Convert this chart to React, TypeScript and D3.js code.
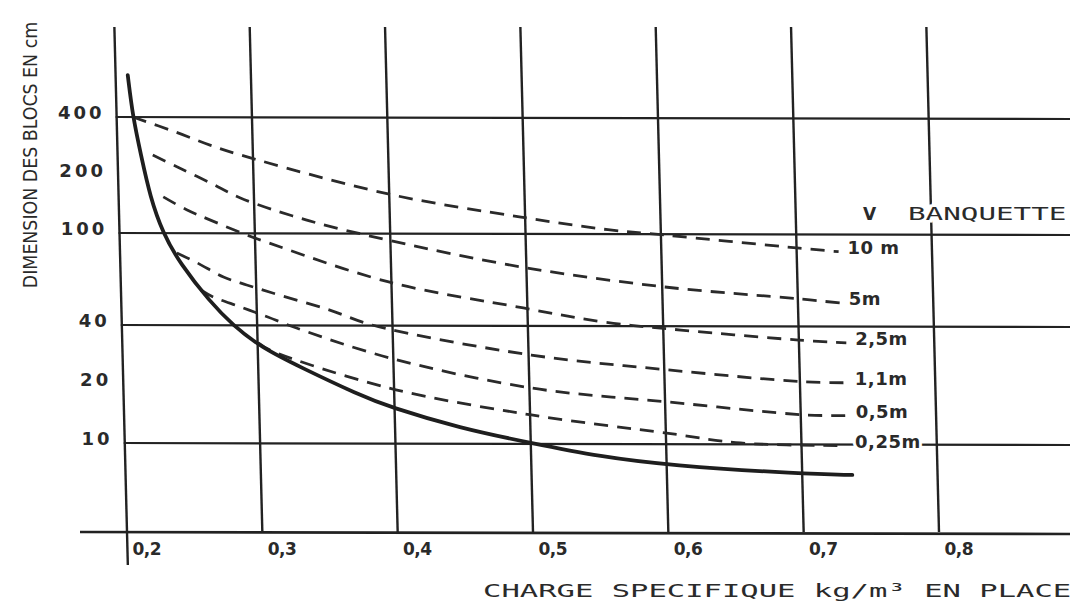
import React from 'react';
import * as d3 from 'd3';

// ---- data ----
const xTicks = [0.2, 0.3, 0.4, 0.5, 0.6, 0.7, 0.8];
const xTickLabels = ['0,2', '0,3', '0,4', '0,5', '0,6', '0,7', '0,8'];
const yGridValues = [400, 100, 40, 10];
const yTickValues = [400, 200, 100, 40, 20, 10];
const yTickLabels = ['400', '200', '100', '40', '20', '10'];

// solid envelope curve
const envelopeX = [0.209, 0.212, 0.2173, 0.2233, 0.232, 0.244, 0.2657, 0.282, 0.302, 0.331, 0.374, 0.396, 0.448, 0.5, 0.552, 0.601, 0.7, 0.737];
const envelopeY = [660, 400, 254, 154, 100, 74, 50.3, 40, 30.9, 24.4, 17.6, 15.3, 11.9, 10, 8.5, 7.7, 6.95, 6.87];

// dashed curves, one per banquette height V
const banquetteLabels = ['10 m', '5m', '2,5m', '1,1m', '0,5m', '0,25m'];
const v10X = [0.212, 0.244, 0.269, 0.291, 0.4, 0.497, 0.561, 0.603, 0.702, 0.731];
const v10Y = [400, 333, 285, 254, 159, 121, 104, 98, 86, 83];
const v5X = [0.226, 0.244, 0.268, 0.29, 0.338, 0.399, 0.498, 0.602, 0.701, 0.731];
const v5Y = [254, 220, 182, 152, 117, 93, 71, 58.4, 51.9, 49.8];
const v25X = [0.233, 0.25, 0.267, 0.294, 0.306, 0.398, 0.497, 0.556, 0.613, 0.7, 0.735];
const v25Y = [154, 132, 117, 98, 92.4, 61.4, 47.4, 41.2, 37.7, 33.5, 32.4];
const v11X = [0.242, 0.257, 0.276, 0.293, 0.312, 0.354, 0.385, 0.502, 0.603, 0.704, 0.734];
const v11Y = [82, 74.2, 64.5, 59.6, 55, 46.4, 40, 28.1, 23.6, 20.5, 20.3];
const v05X = [0.259, 0.268, 0.288, 0.308, 0.329, 0.397, 0.501, 0.602, 0.704, 0.734];
const v05Y = [56.7, 52.9, 47.9, 43.3, 38.6, 27.2, 19.1, 16.2, 13.9, 13.8];
const v025X = [0.3005, 0.309, 0.396, 0.501, 0.602, 0.655, 0.733];
const v025Y = [32.4, 29.8, 19.1, 13.9, 11.2, 10, 9.7];

const seriesX = [v10X, v5X, v25X, v11X, v05X, v025X];
const seriesY = [v10Y, v5Y, v25Y, v11Y, v05Y, v025Y];

export default function App() {
  const W = 1070, H = 604;
  const baseY = 532; // axis baseline
  const topY = 27;
  const k = 0.025; // slant of the scanned sheet
  const ink = '#222';

  const x = d3.scaleLinear().domain([0.2, 0.8]).range([127, 939]);
  const y = d3.scaleLog().domain([10, 40, 100, 400]).range([443, 325, 233, 117]);

  const sx = (v: number, py: number) => x(v) - k * (baseY - py);
  const skew = `translate(${-k * baseY},0) skewX(${(Math.atan(k) * 180) / Math.PI})`;

  const line = d3
    .line<[number, number]>()
    .x((d) => x(d[0]))
    .y((d) => y(d[1]))
    .curve(d3.curveCatmullRom.alpha(0.5));
  const smooth = d3
    .line<[number, number]>()
    .x((d) => x(d[0]))
    .y((d) => y(d[1]))
    .curve(d3.curveBasis);

  const env = envelopeX.map((v, i) => [v, envelopeY[i]] as [number, number]);
  const series = seriesX.map((xs, s) => xs.map((v, i) => [v, seriesY[s][i]] as [number, number]));

  const mono = '"DejaVu Sans Mono", "Liberation Mono", monospace';
  const sans = '"DejaVu Sans", "Liberation Sans", sans-serif';
  const txt = '#2a2a2a';

  return (
    <svg width={W} height={H} style={{ position: 'absolute', left: 0, top: 0, background: '#fff' }}>
      <rect width={W} height={H} fill="#fff" />
      <g transform={skew}>
        {xTicks.map((v, i) => (
          <line key={'vx' + v} x1={x(v)} x2={x(v)} y1={topY} y2={i === 0 ? 565 : baseY} stroke={ink} strokeWidth={2.4} />
        ))}
      </g>
      {yGridValues.map((v) => (
        <line key={'hy' + v} x1={sx(0.2, y(v)) - 1} x2={W} y1={y(v)} y2={y(v) + 2} stroke={ink} strokeWidth={2.2} />
      ))}
      <line x1={80} x2={W} y1={baseY} y2={baseY + 2} stroke={ink} strokeWidth={2.6} />

      <g transform={skew}>
        {series.map((pts, s) => (
          <path key={'s' + s} d={line(pts) || ''} fill="none" stroke="#2a2a2a" strokeWidth={2.8} strokeDasharray="14 9" />
        ))}
        <path d={smooth(env) || ''} fill="none" stroke="#1e1e1e" strokeWidth={3.8} strokeLinecap="round" />
      </g>

      {yTickValues.map((v, i) => {
        const py = y(v) - 5;
        return (
          <text key={'yt' + v} x={sx(0.2, py) - 12} y={py + 6.5} textAnchor="end" fontFamily={sans} fontWeight="bold" fontSize={18} letterSpacing={3} fill={txt}>
            {yTickLabels[i]}
          </text>
        );
      })}
      {xTicks.map((v, i) => (
        <text key={'xt' + v} x={sx(v, 547) + 5} y={555} fontFamily={sans} fontWeight="bold" fontSize={17} letterSpacing={-0.5} fill={txt}>
          {xTickLabels[i]}
        </text>
      ))}

      {series.map((pts, s) => {
        const last = pts[pts.length - 1];
        const py = y(last[1]) - 4;
        return (
          <text key={'bl' + s} x={sx(last[0], py) + 9} y={py + 6.5} fontFamily={sans} fontWeight="bold" fontSize={18} letterSpacing={0.5} fill={txt} stroke="#fff" strokeWidth={6} paintOrder="stroke">
            {banquetteLabels[s]}
          </text>
        );
      })}
      <text x={863} y={220} fontFamily={sans} fontWeight="bold" fontSize={17} fill={txt}>V</text>
      <text transform="translate(908,220) scale(1.72,1)" x={0} y={0} fontFamily={mono} fontSize={17} fill={txt} stroke="#fff" strokeWidth={5} paintOrder="stroke">
        BANQUETTE
      </text>

      <text transform="translate(483,597) scale(1.66,1)" x={0} y={0} fontFamily={mono} fontSize={18.4} fill={txt}>
        CHARGE SPECIFIQUE kg/m³ EN PLACE
      </text>
      <text transform="translate(37,155) rotate(-90) scale(0.87,1)" x={0} y={0} textAnchor="middle" fontFamily={sans} fontSize={20} fill={txt}>
        DIMENSION DES BLOCS EN cm
      </text>
    </svg>
  );
}
